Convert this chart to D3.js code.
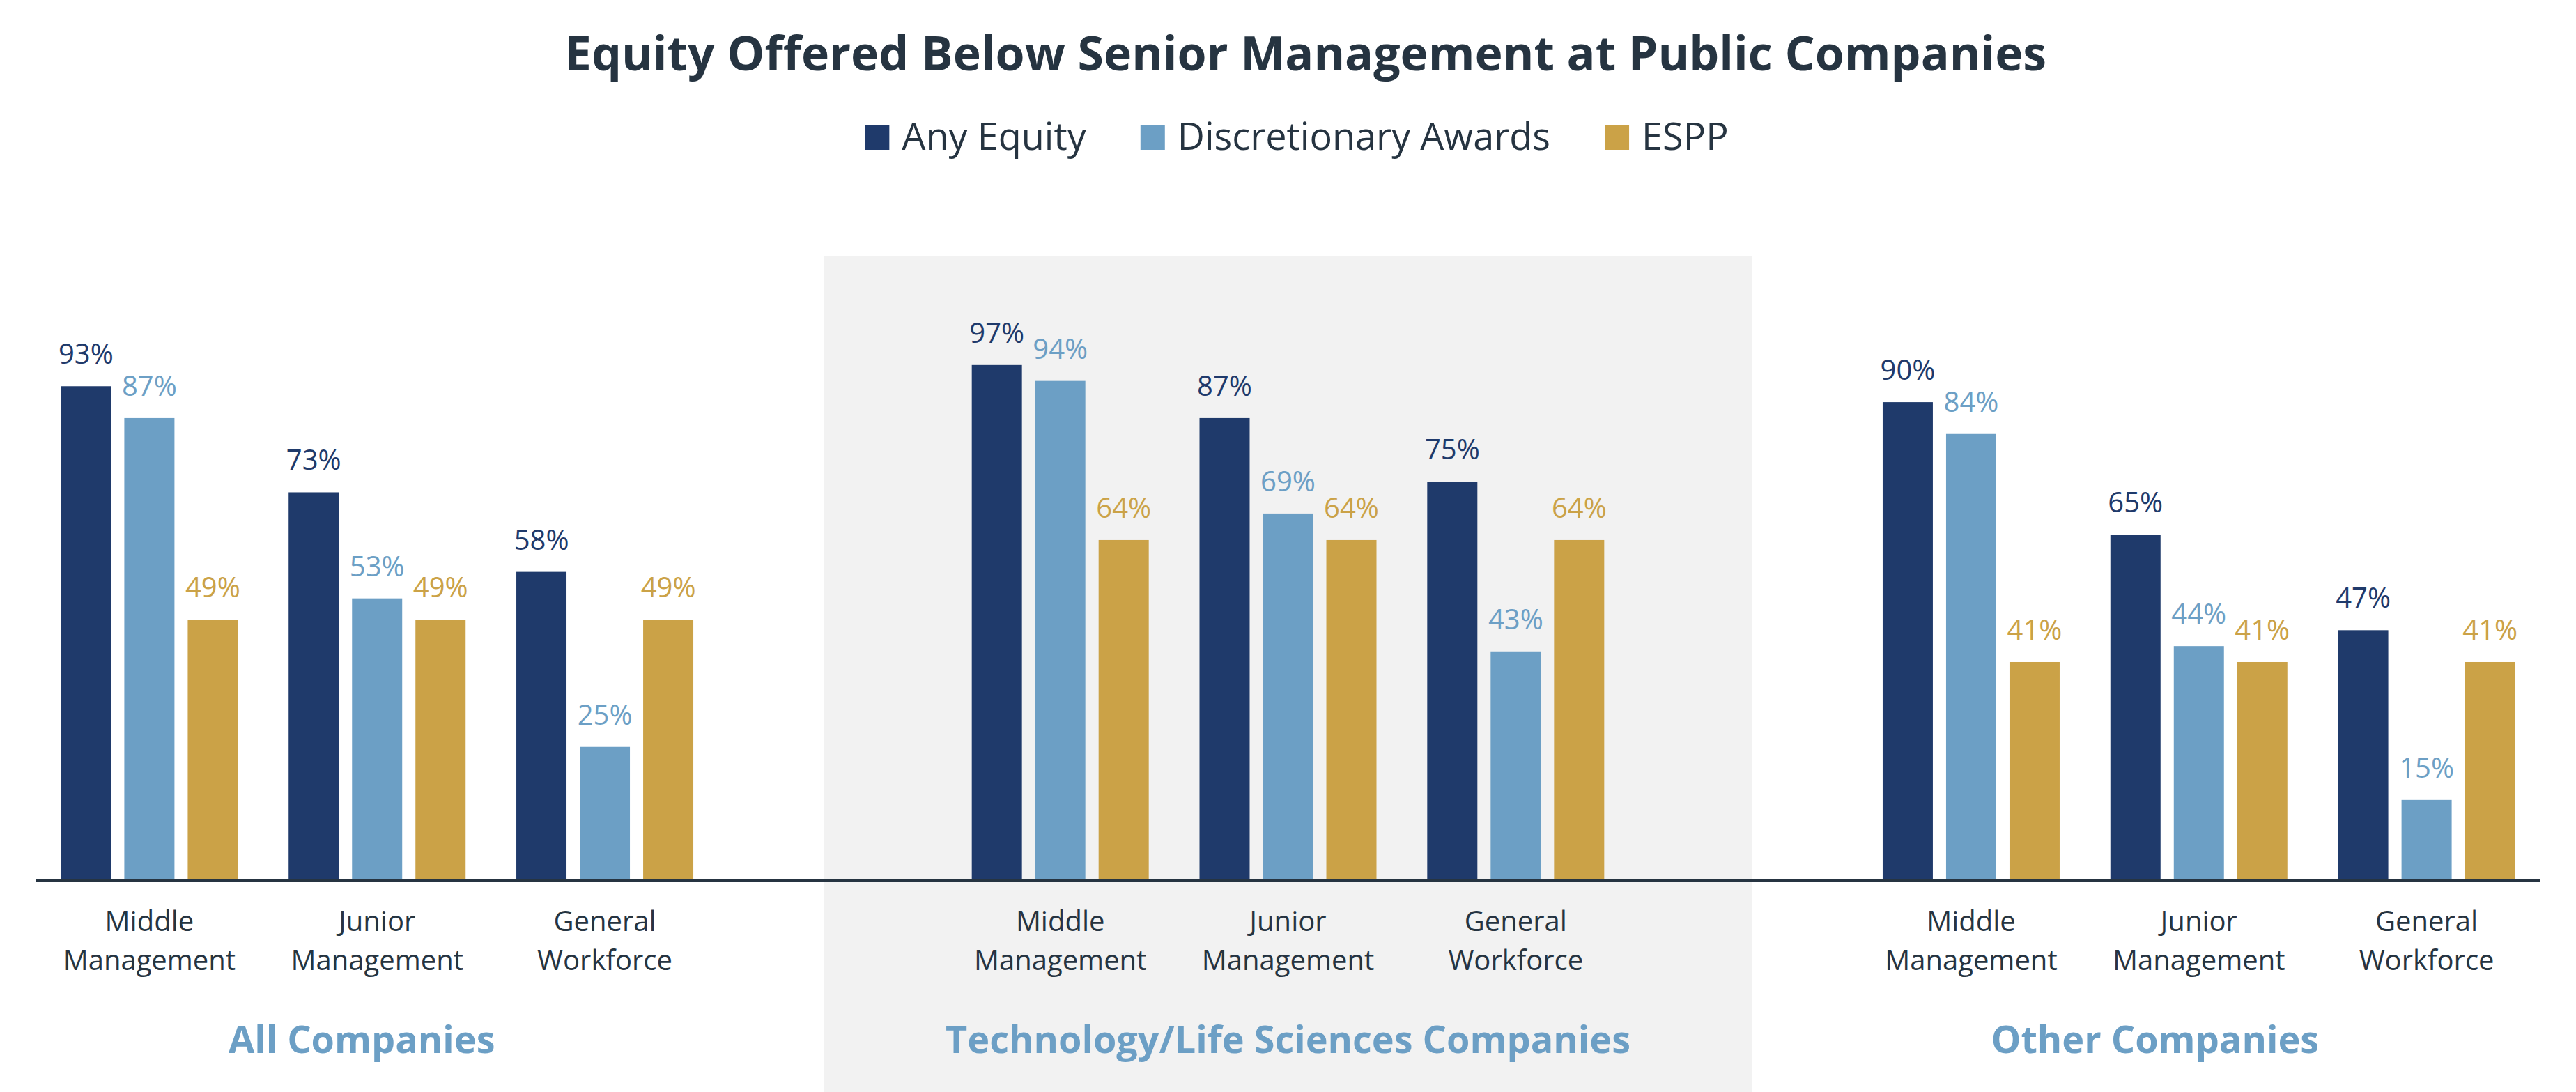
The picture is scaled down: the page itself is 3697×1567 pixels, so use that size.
<!DOCTYPE html>
<html>
<head>
<meta charset="utf-8">
<script src="https://cdn.jsdelivr.net/npm/d3@7"></script>
<style>
  html, body { margin: 0; padding: 0; background: #ffffff; }
  svg { display: block; }
  text { font-family: "Open Sans", "Noto Sans", sans-serif; }
</style>
</head>
<body>
<svg id="chart" width="3697" height="1567"></svg>
<script>
// ---- Data ----
const chartTitle = "Equity Offered Below Senior Management at Public Companies";
const panels = ["All Companies", "Technology/Life Sciences Companies", "Other Companies"];
const categories = ["Middle Management", "Junior Management", "General Workforce"];
const categoryLines = [["Middle", "Management"], ["Junior", "Management"], ["General", "Workforce"]];
const seriesNames = ["Any Equity", "Discretionary Awards", "ESPP"];
const anyEquity     = [[93, 73, 58], [97, 87, 75], [90, 65, 47]];
const discretionary = [[87, 53, 25], [94, 69, 43], [84, 44, 15]];
const espp          = [[49, 49, 49], [64, 64, 64], [41, 41, 41]];
const seriesValues = [anyEquity, discretionary, espp];
const colors = ["#1F3A6B", "#6C9FC5", "#CBA247"];

// ---- Layout ----
const W = 3697, H = 1567;
const svg = d3.select("#chart");
const textDark = "#263441";

const x0 = d3.scaleBand().domain(panels).range([51, 3646]).paddingInner(0.25).paddingOuter(0);
const x1 = d3.scaleBand().domain(categories).range([0, x0.bandwidth()]).paddingInner(0.2228).paddingOuter(0.1114);
const x2 = d3.scaleBand().domain(seriesNames).range([0, x1.bandwidth()]).paddingInner(0.209).paddingOuter(0);
const y = d3.scaleLinear().domain([0, 100]).range([1262, 501]);

// Highlight panel background (middle panel)
const midPanel = panels[1];
const midCenter = x0(midPanel) + x0.bandwidth() / 2;
svg.append("rect")
  .attr("x", midCenter - 666.5).attr("y", 367)
  .attr("width", 1333).attr("height", H - 367)
  .attr("fill", "#F2F2F2");

// Title
svg.append("text")
  .attr("x", 1874).attr("y", 101)
  .attr("text-anchor", "middle")
  .attr("font-size", 68).attr("font-weight", 700)
  .attr("fill", textDark)
  .text(chartTitle);

// Legend
const legend = svg.append("g");
let lx = 0;
seriesNames.forEach((name, i) => {
  const g = legend.append("g").attr("transform", `translate(${lx},0)`);
  g.append("rect").attr("x", 0).attr("y", 180).attr("width", 35).attr("height", 35).attr("fill", colors[i]);
  const t = g.append("text").attr("x", 53).attr("y", 215)
    .attr("font-size", 54).attr("fill", textDark).text(name);
  const tw = t.node().getComputedTextLength();
  lx += 53 + tw + (i < seriesNames.length - 1 ? 78 : 0);
});
legend.attr("transform", `translate(${1861 - lx / 2},0)`);

// Bars + labels
const titleShift = [-22, 0, -63];
panels.forEach((p, pi) => {
  const pg = svg.append("g").attr("transform", `translate(${x0(p)},0)`);
  categories.forEach((c, ci) => {
    const cg = pg.append("g").attr("transform", `translate(${x1(c)},0)`);
    seriesNames.forEach((s, si) => {
      const v = seriesValues[si][pi][ci];
      cg.append("rect")
        .attr("x", x2(s)).attr("y", y(v))
        .attr("width", x2.bandwidth()).attr("height", y(0) - y(v))
        .attr("fill", colors[si]);
      cg.append("text")
        .attr("x", x2(s) + x2.bandwidth() / 2).attr("y", y(v) - 32)
        .attr("text-anchor", "middle")
        .attr("font-size", 40).attr("fill", colors[si])
        .text(v + "%");
    });
    const cx = x1.bandwidth() / 2;
    const lab = cg.append("text").attr("text-anchor", "middle")
      .attr("font-size", 40).attr("fill", textDark);
    categoryLines[ci].forEach((ln, li) => {
      lab.append("tspan").attr("x", cx).attr("y", 1336 + li * 56).text(ln);
    });
  });
  pg.append("text")
    .attr("x", x0.bandwidth() / 2 + titleShift[pi]).attr("y", 1511)
    .attr("text-anchor", "middle")
    .attr("font-size", 54).attr("font-weight", 700)
    .attr("fill", "#6C9FC5")
    .text(p);
});

// Baseline axis
svg.append("line")
  .attr("x1", x0.range()[0]).attr("x2", x0.range()[1])
  .attr("y1", y(0) + 1.5).attr("y2", y(0) + 1.5)
  .attr("stroke", textDark).attr("stroke-width", 3);
</script>
</body>
</html>
